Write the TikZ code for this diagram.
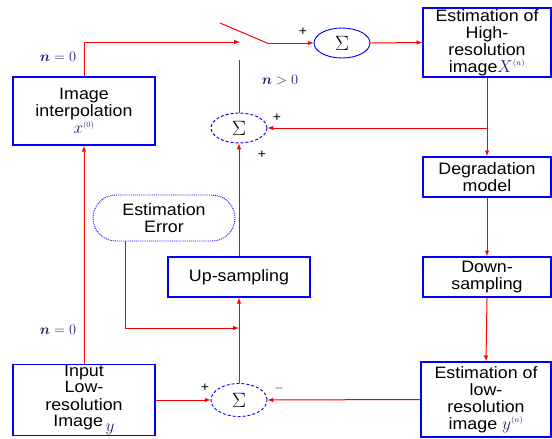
\documentclass[tikz,border=0pt]{standalone}
\usepackage{fontspec}
\setmainfont{Liberation Sans}[FakeStretch=1.08]
\usepackage{amsmath}
\usetikzlibrary{arrows,shapes.geometric}
\definecolor{navy}{RGB}{25,35,110}

\begin{document}
\begin{tikzpicture}[x=1pt,y=-1pt,
  box/.style={draw=blue,line width=1.4pt,align=center,inner sep=0pt,font=\fontsize{16.5}{17}\selectfont},
  sumnode/.style={ellipse,draw=blue,line width=0.9pt,inner sep=0pt,minimum width=56pt,minimum height=30pt,font=\fontsize{22}{22}\selectfont},
  errnode/.style={draw=blue,densely dotted,line width=0.9pt,rounded corners=23pt,align=center,inner sep=0pt,font=\fontsize{16.5}{17}\selectfont},
  wire/.style={red,line width=1pt},
  arr/.style={->,>=latex,red,line width=1pt},
  sgn/.style={font=\fontsize{13}{13}\selectfont},
  cond/.style={navy,font=\fontsize{15}{15}\selectfont}]
\useasboundingbox (0,0) rectangle (552,439);

\node[box,minimum width=142pt,minimum height=68pt] (interp) at (84,111) {Image\\interpolation\\\textcolor{navy}{$x^{\scriptscriptstyle(0)}$}};
\node[box,minimum width=142pt,minimum height=65pt] (inp) at (84,400) {Input\\Low-\\resolution\\Image\,\raisebox{-5pt}{\textcolor{navy}{$y$}}};
\node[box,minimum width=142pt,minimum height=40pt] (up) at (239,277) {Up-sampling};
\node[errnode,minimum width=142pt,minimum height=46pt] (err) at (164,218) {Estimation\\Error};

\node[box,minimum width=128pt,minimum height=69pt] (hr) at (487,42.5) {Estimation of\\High-\\resolution\\image\textcolor{navy}{$X^{\scriptscriptstyle(n)}$}};
\node[box,minimum width=128pt,minimum height=40pt] (deg) at (487,177) {Degradation\\model};
\node[box,minimum width=128pt,minimum height=40pt] (ds) at (487,277) {Down-\\sampling};
\node[box,minimum width=130pt,minimum height=75pt] (le) at (486,399.5) {Estimation of\\low-\\resolution\\image \textcolor{navy}{$y^{\scriptscriptstyle(n)}$}};

\node[sumnode] (s1) at (342,43) {$\Sigma$};
\node[sumnode,densely dashed] (s2) at (239,128) {$\Sigma$};
\node[sumnode,densely dashed,minimum height=33pt] (s3) at (239,400) {$\Sigma$};

\coordinate (pivot) at (267,43);
\coordinate (blade) at (220,23);
\coordinate (c0) at (240,42);
\coordinate (c1) at (239,60);
\coordinate (br) at (487,128);
\coordinate (ej) at (239,328);

\draw[arr] (interp.north) |- (c0);
\draw[wire] (blade) -- (pivot);
\draw[arr] (pivot) -- (s1.west);
\draw[wire] (s2.north) -- (c1);
\draw[arr] (s1.east) -- (hr.west);
\draw[arr] (hr.south) -- (deg.north);
\draw[arr] (br) -- (s2.east);
\draw[arr] (deg.south) -- (ds.north);
\draw[arr] (ds.south) -- (le.north);
\draw[arr] (le.west) -- (s3.east);
\draw[arr] (inp.east) -- (s3.west);
\draw[arr] (s3.north) -- (up.south);
\draw[arr] (up.north) -- (s2.south);
\draw[arr] ([xshift=-39pt]err.south) |- (ej);
\draw[arr] (inp.north) -- (interp.south);

\node[cond] (lab0a) at (58,57) {$\boldsymbol{n}=0$};
\node[cond] (lab0b) at (58,330) {$\boldsymbol{n}=0$};
\node[cond] (labn) at (280,80) {$\boldsymbol{n}>0$};
\node[sgn] (p1) at (303,32) {+};
\node[sgn] (p2) at (277,118) {+};
\node[sgn] (p3) at (262,155) {+};
\node[sgn] (p4) at (205,388) {+};
\node[sgn] (m1) at (279,388) {$-$};
\end{tikzpicture}
\end{document}
